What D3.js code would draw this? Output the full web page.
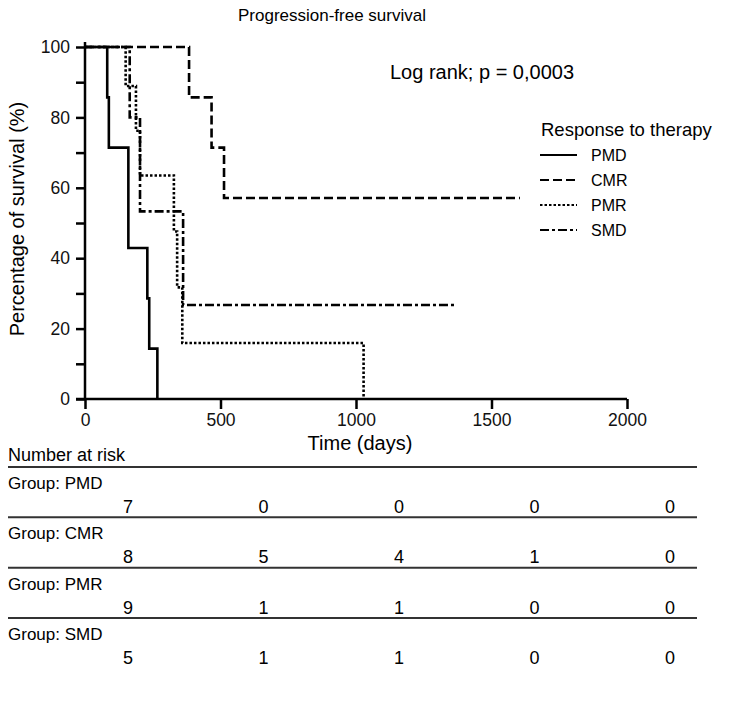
<!DOCTYPE html>
<html>
<head>
<meta charset="utf-8">
<script src="https://cdn.jsdelivr.net/npm/d3@7"></script>
<style>
  html, body { margin: 0; padding: 0; background: #fff; }
  svg { display: block; font-family: "Liberation Sans", Arial, sans-serif; }
</style>
</head>
<body>
<svg id="chart" width="729" height="702"></svg>
<script>
// ---- data ----
const groups = ["PMD", "CMR", "PMR", "SMD"];
const pmdTime = [0, 82, 88, 160, 230, 237, 267];
const pmdSurv = [100, 85.7, 71.4, 42.9, 28.6, 14.3, 0];
const cmrTime = [0, 384, 467, 513, 1605];
const cmrSurv = [100, 85.7, 71.4, 57.1, 57.1];
const pmrTime = [0, 150, 188, 203, 328, 340, 359, 1028];
const pmrSurv = [100, 88.9, 76.2, 63.5, 47.6, 31.7, 15.9, 0];
const smdTime = [0, 165, 203, 362, 1362];
const smdSurv = [100, 80, 53.3, 26.7, 26.7];
const xTicks = [0, 500, 1000, 1500, 2000];
const yTicks = [0, 10, 20, 30, 40, 50, 60, 70, 80, 90, 100];
const yLabelTicks = [0, 20, 40, 60, 80, 100];
const riskPMD = [7, 0, 0, 0, 0];
const riskCMR = [8, 5, 4, 1, 0];
const riskPMR = [9, 1, 1, 0, 0];
const riskSMD = [5, 1, 1, 0, 0];

const series = [
  {name: "PMD", t: pmdTime, s: pmdSurv, dash: null},
  {name: "CMR", t: cmrTime, s: cmrSurv, dash: "9,4"},
  {name: "PMR", t: pmrTime, s: pmrSurv, dash: "2.5,2"},
  {name: "SMD", t: smdTime, s: smdSurv, dash: "9,3,3,3"}
];
const risk = [riskPMD, riskCMR, riskPMR, riskSMD];

// ---- layout ----
const svg = d3.select("#chart");
const x = d3.scaleLinear().domain([0, 2000]).range([85, 627]);
const y = d3.scaleLinear().domain([0, 100]).range([399, 47]);
const FONT = 17.5;

// title
svg.append("text").attr("x", 332).attr("y", 21).attr("text-anchor", "middle")
  .attr("font-size", 17).text("Progression-free survival");

// axes
const xAxis = svg.append("g").attr("transform", `translate(0,${y(0)})`)
  .call(d3.axisBottom(x).tickValues(xTicks).tickSize(10).tickPadding(5).tickFormat(d3.format("d")));
const yAxis = svg.append("g").attr("transform", `translate(${x(0)},0)`)
  .call(d3.axisLeft(y).tickValues(yTicks).tickSize(9).tickPadding(6)
    .tickFormat(d => yLabelTicks.includes(d) ? d : ""));
[xAxis, yAxis].forEach(g => {
  g.select(".domain").attr("stroke", "#000").attr("stroke-width", 2.5);
  g.selectAll(".tick line").attr("stroke", "#000").attr("stroke-width", 2.5);
  g.selectAll(".tick text").attr("font-size", FONT).attr("fill", "#111")
    .attr("font-family", "Liberation Sans, Arial, sans-serif");
});
xAxis.select(".domain").attr("d", `M${x(0) - 9},0H${x(2000)}`);
yAxis.select(".domain").attr("d", `M0,${y(0)}V${y(100) - 5}`);

// axis labels
svg.append("text").attr("x", 360).attr("y", 450).attr("text-anchor", "middle")
  .attr("font-size", 20).text("Time (days)");
svg.append("text").attr("transform", `translate(24,${(y(0) + y(100)) / 2 - 4}) rotate(-90)`)
  .attr("text-anchor", "middle").attr("font-size", 20).text("Percentage of survival (%)");

// curves
const line = d3.line().x(d => x(d[0])).y(d => y(d[1])).curve(d3.curveStepAfter);
series.forEach(sr => {
  const pts = sr.t.map((t, i) => [t, sr.s[i]]);
  svg.append("path").attr("d", line(pts)).attr("fill", "none")
    .attr("stroke", "#000").attr("stroke-width", 2.6)
    .attr("stroke-dasharray", sr.dash);
});

// log rank
svg.append("text").attr("x", 390).attr("y", 79).attr("font-size", 20)
  .text("Log rank; p = 0,0003");

// legend
svg.append("text").attr("x", 541).attr("y", 136).attr("font-size", 18.5)
  .text("Response to therapy");
const legY = d3.scalePoint().domain(groups).range([155, 230]);
series.forEach(sr => {
  svg.append("line").attr("x1", 540).attr("x2", 577)
    .attr("y1", legY(sr.name)).attr("y2", legY(sr.name))
    .attr("stroke", "#000").attr("stroke-width", 2).attr("stroke-dasharray", sr.dash);
  svg.append("text").attr("x", 591).attr("y", legY(sr.name) + 6)
    .attr("font-size", 16).text(sr.name);
});

// risk table
svg.append("text").attr("x", 8).attr("y", 461).attr("font-size", 18).text("Number at risk");
const rowY = d3.scalePoint().domain(groups).range([467, 618]);
groups.forEach((g, gi) => {
  const top = rowY(g);
  svg.append("line").attr("x1", 8).attr("x2", 697).attr("y1", top).attr("y2", top)
    .attr("stroke", "#333").attr("stroke-width", 2);
  svg.append("text").attr("x", 8).attr("y", top + 22).attr("font-size", 17)
    .text("Group: " + g);
  risk[gi].forEach((v, i) => {
    svg.append("text").attr("x", x(xTicks[i]) + 43).attr("y", top + 46)
      .attr("text-anchor", "middle").attr("font-size", 18).text(v);
  });
});
</script>
</body>
</html>
